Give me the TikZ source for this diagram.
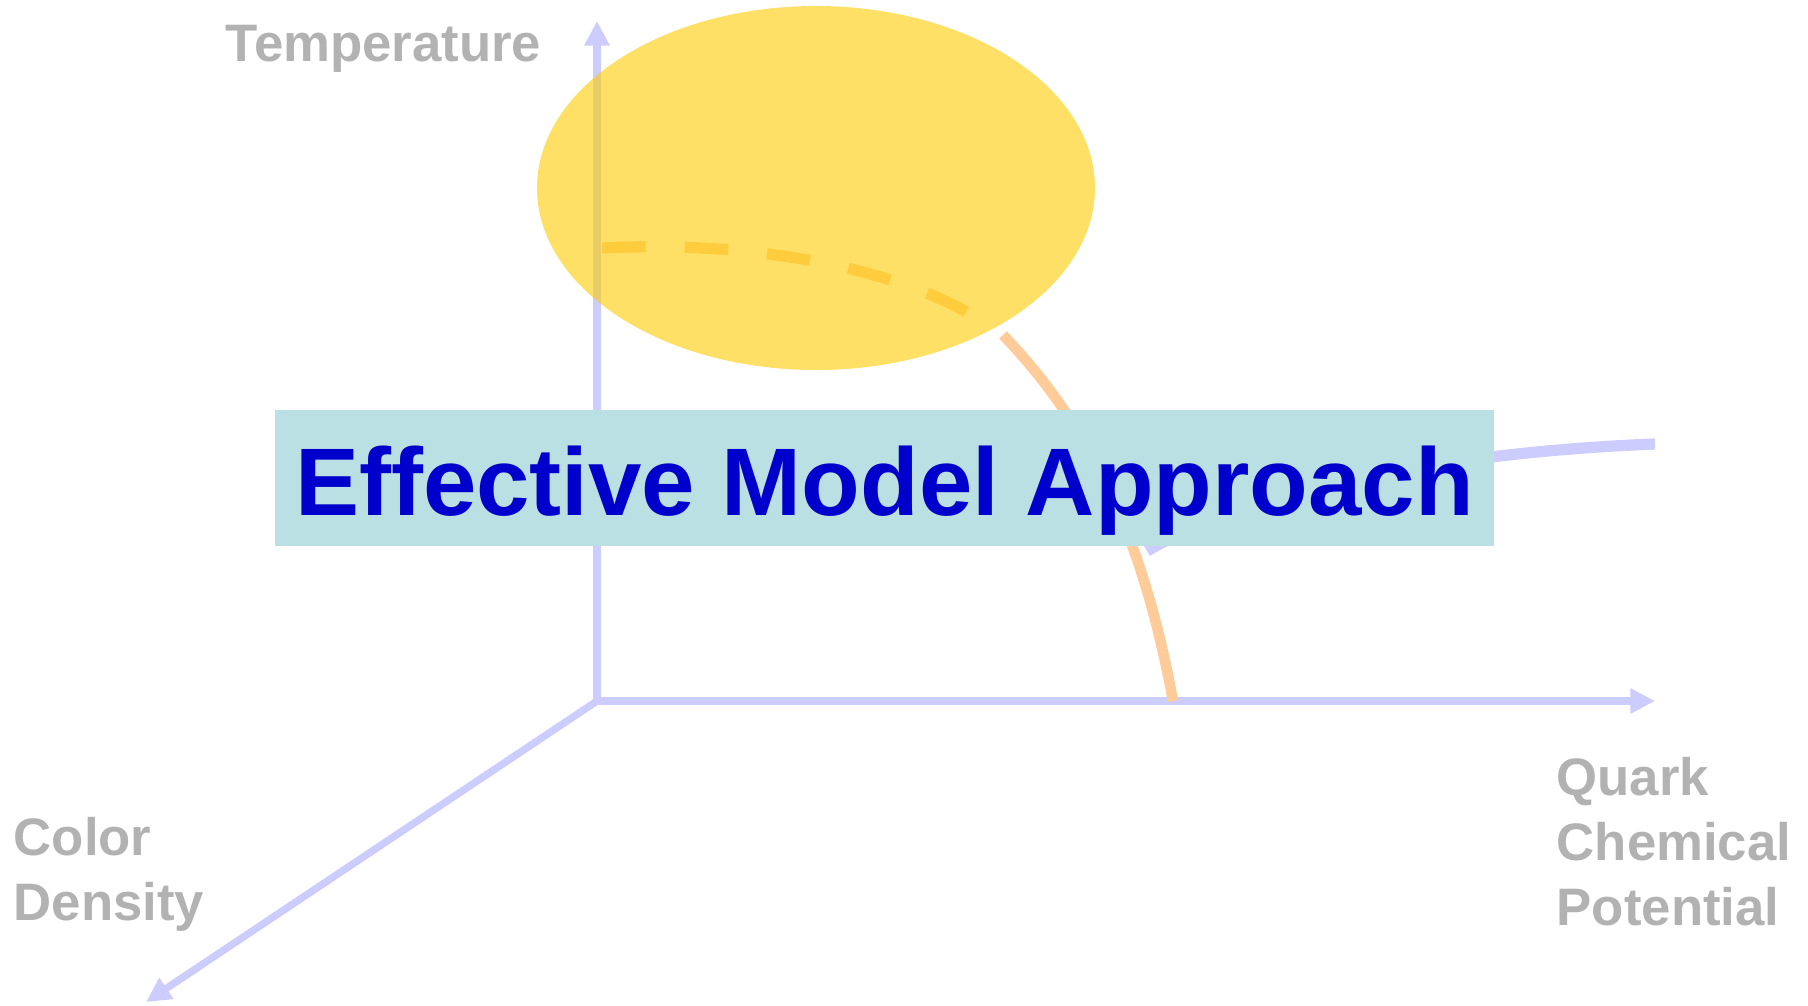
\documentclass[tikz,border=0pt]{standalone}
\usepackage{fontspec}
\setmainfont{Liberation Sans}
\usepackage{tikz}
\definecolor{achsenblau}{RGB}{204,204,255}
\definecolor{schriftgrau}{RGB}{178,178,178}
\definecolor{sonnengelb}{RGB}{255,204,0}
\definecolor{pfirsich}{RGB}{255,204,153}
\definecolor{kastentuerkis}{RGB}{187,224,227}
\definecolor{titelblau}{RGB}{0,0,204}
\usetikzlibrary{arrows.meta, positioning}

\begin{document}
\begin{tikzpicture}[x=0.01cm, y=-0.01cm,
				>={Triangle[length=7pt,width=6.8pt]},   %Voreinstellung für Pfeilspitzen
				achse/.style={achsenblau, line width=2.1pt, ->},
				beschriftung/.style={schriftgrau, font=\fontsize{15}{18.4}\selectfont\bfseries, align=left, inner sep=0pt, anchor=north west},
				titelkasten/.style={fill=kastentuerkis, text=titelblau, font=\fontsize{27.3}{32}\selectfont\bfseries, inner sep=0pt, minimum width=12.18cm, minimum height=1.35cm, text height=21.3pt, text depth=0pt}]
				%Bildbereich
				\useasboundingbox (0,0) rectangle (1808,1005);
				% Achsen zeichnen
				\coordinate (O) at (597,701);
				\coordinate (T) at (597,21);
				\coordinate (Mu) at (1655,701);
				\coordinate (N) at (146,1002);
				\draw[achse] (O) -- (T);
				\draw[achse] (O) -- (Mu);
				\draw[achse] (O) -- (N);
				% Achsen beschriften
				\node[beschriftung] (temp) at (225,24) {Temperature};
				\node[beschriftung] (dichte) at (13,817) {Color\\Density};
				\node[beschriftung] (potential) at (1556,757) {Quark\\Chemical\\Potential};
				%Phasengrenzen zeichnen:
				\draw[pfirsich, line width=3.2pt, dash pattern=on 12.4pt off 11.1pt] (602,248) .. controls (765,240) and (905,272) .. (980,320);
				\draw[pfirsich, line width=3pt] (1003,335) .. controls (1080,415) and (1140,520) .. (1173,701);
				\draw[achsenblau, line width=3.2pt] (1655,444) .. controls (1450,452) and (1250,490) .. (1147,551);
				% Gebiet
				\fill[sonnengelb, opacity=0.6] (816,188) ellipse [x radius=279, y radius=182];
				%Beschriftung
				\node[titelkasten] (titel) at (884.5,478) {Effective Model Approach};
			\end{tikzpicture}
\end{document}
